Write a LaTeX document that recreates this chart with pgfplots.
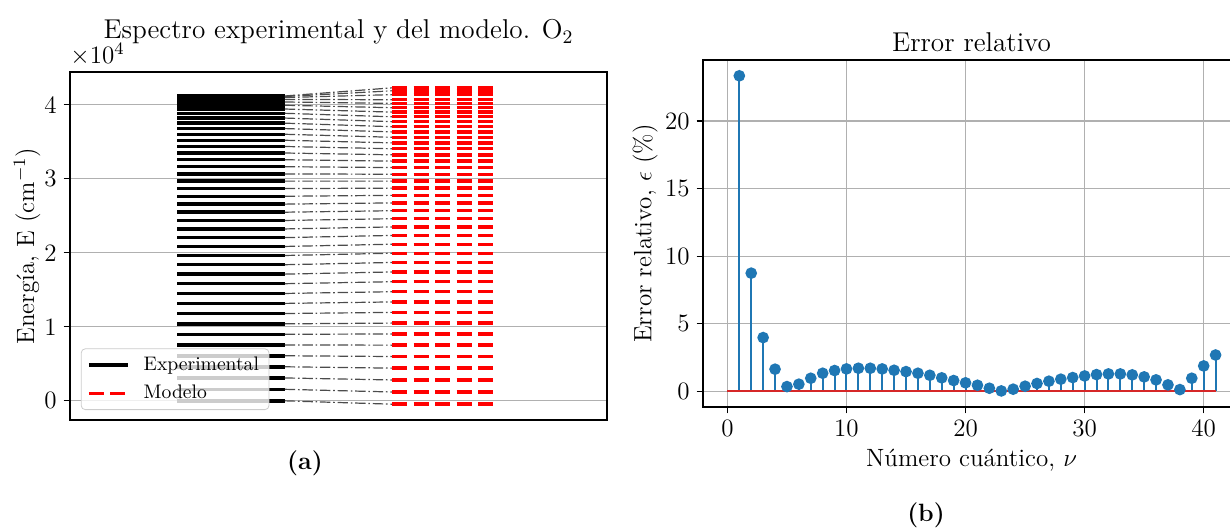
\documentclass[border=0pt]{standalone}
\usepackage{fix-cm}
\usepackage{fontspec}
\usepackage{pgfplots}
\pgfplotsset{compat=1.18}
\usepackage{pgfplotstable}

\definecolor{mplblue}{RGB}{31,119,180}
\definecolor{mplred}{RGB}{214,39,40}
\definecolor{gridgray}{RGB}{176,176,176}

\newcommand{\tickfont}{\fontsize{12.5}{15}\selectfont}
\newcommand{\labfont}{\fontsize{12.5}{15}\selectfont}
\newcommand{\titfont}{\fontsize{13.6}{16}\selectfont}
\newcommand{\legfont}{\fontsize{9.8}{11.5}\selectfont}

% vibrational levels (cm^-1): experimental and model
\pgfplotstableread{
v exp mod
0 0 -455
1 1556 1193
2 3089 2819
3 4598 4416
4 6084 5985
5 7545 7519
6 8984 9031
7 10398 10498
8 11789 11946
9 13156 13357
10 14499 14738
11 15818 16087
12 17113 17404
13 18383 18686
14 19629 19933
15 20849 21151
16 22044 22337
17 23214 23488
18 24357 24598
19 25475 25676
20 26565 26730
21 27628 27750
22 28663 28726
23 29669 29675
24 30647 30601
25 31620 31503
26 32560 32374
27 33470 33222
28 34350 34044
29 35190 34835
30 36000 35593
31 36770 36318
32 37500 37020
33 38190 37701
34 38830 38360
35 39410 38992
36 39920 39585
37 40360 40170
38 40710 40661
39 40960 41353
40 41100 41869
41 41170 42273
}\levels

% relative error (%)
\pgfplotstableread{
v err
1 23.35
2 8.74
3 3.97
4 1.63
5 0.34
6 0.52
7 0.96
8 1.33
9 1.53
10 1.65
11 1.70
12 1.70
13 1.65
14 1.55
15 1.45
16 1.33
17 1.18
18 0.99
19 0.79
20 0.62
21 0.44
22 0.22
23 0.02
24 0.15
25 0.37
26 0.57
27 0.74
28 0.89
29 1.01
30 1.13
31 1.23
32 1.28
33 1.28
34 1.21
35 1.06
36 0.84
37 0.47
38 0.12
39 0.96
40 1.87
41 2.68
}\errs

\pgfplotsset{
  mplbase/.style={
    scale only axis, width=268.5pt,
    tick align=outside, major tick length=3.2pt,
    tick style={black, line width=0.6pt},
    axis line style={line width=0.6pt},
    grid style={gridgray, line width=0.6pt},
    ticklabel style={font=\tickfont},
    label style={font=\labfont},
    xtick pos=bottom, ytick pos=left,
  }
}

\begin{document}
\begin{tikzpicture}
\path[use as bounding box] (0pt,0pt) rectangle (615pt,263.5pt);

\begin{axis}[mplbase, name=ax1,
  at={(35pt,53.5pt)}, anchor=south west, height=174pt,
  xmin=0, xmax=1, ymin=-2591, ymax=44410,
  xtick=\empty,
  ytick={0,10000,20000,30000,40000}, yticklabels={0,1,2,3,4},
  scaled y ticks=false,
  ymajorgrids,
  title={Espectro experimental y del modelo. O$_2$},
  every axis title/.style={at={(0.5,1)}, anchor=base, yshift=16.5pt, font=\titfont},
  ylabel={Energía, E (cm$^{-1}$)},
  ylabel style={at={(axis description cs:-0.080,0.5)}, anchor=center},
  legend style={at={(axis description cs:0.0202,0.0287)}, anchor=south west,
    font=\legfont, draw=black!20, rounded corners=2pt, fill=white,
    fill opacity=0.8, text opacity=1, inner xsep=3pt, inner ysep=1.2pt,
    nodes={text height=7.2pt, text depth=2.2pt, inner ysep=2.3pt},
    /tikz/column 1/.style={column sep=5pt},
    /tikz/column 2/.style={column sep=0pt}},
  legend cell align=left,
  legend image code/.code={\draw[#1] (0pt,0pt) -- (19.5pt,0pt);},
]
\addplot[black, line width=1.75pt, quiver={u=0.2, v=0}, forget plot]
  table[x expr=0.2, y=exp] {\levels};
\addplot[black!70, line width=0.6pt, dash pattern=on 5.2pt off 1.4pt on 0.8pt off 1.4pt,
  quiver={u=0.2, v=\thisrow{mod}-\thisrow{exp}}, forget plot]
  table[x expr=0.4, y=exp] {\levels};
\addplot[red, line width=1.7pt, dash pattern=on 7.5pt off 3.24pt,
  quiver={u=0.1879, v=0}, forget plot]
  table[x expr=0.6, y=mod] {\levels};
\addlegendimage{black, line width=1.75pt}
\addlegendentry{Experimental}
\addlegendimage{red, line width=1.7pt, dash pattern=on 7.5pt off 3.24pt}
\addlegendentry{Modelo}
\end{axis}
\node[anchor=base west, inner sep=0pt, font=\tickfont] at ([yshift=4pt]ax1.north west) {$\times10^{4}$};

\begin{axis}[mplbase,
  at={(351.5pt,60pt)}, anchor=south west, height=173.5pt,
  xmin=-2.05, xmax=43.05, ymin=-1.17, ymax=24.52,
  xtick={0,10,20,30,40}, ytick={0,5,10,15,20},
  grid=major,
  title={Error relativo},
  every axis title/.style={at={(0.5,1)}, anchor=base, yshift=4.5pt, font=\titfont},
  xlabel={Número cuántico, $\nu$},
  xlabel style={at={(axis description cs:0.5,-0.153)}, anchor=center},
  ylabel={Error relativo, $\epsilon$ (\%)},
  ylabel style={at={(axis description cs:-0.108,0.5)}, anchor=center},
]
\addplot[ycomb, mplblue, line width=1pt, mark=*, mark size=2.4pt,
  mark options={solid, fill=mplblue, draw=mplblue}]
  table[x=v, y=err] {\errs};
\addplot[mplred, line width=1pt] coordinates {(0,0) (41,0)};
\end{axis}

\node[font=\bfseries\labfont] at (152.5pt,32pt) {(a)};
\node[font=\bfseries\labfont] at (463pt,6pt) {(b)};
\end{tikzpicture}
\end{document}
